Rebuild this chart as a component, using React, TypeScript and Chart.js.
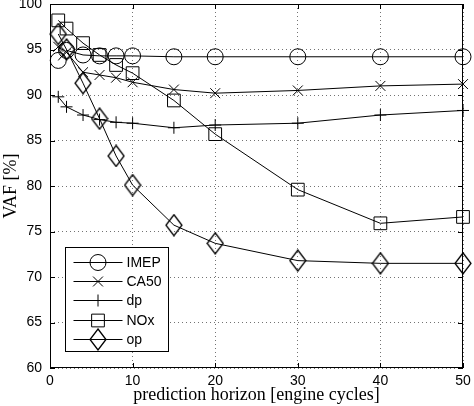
import { useEffect, useRef } from 'react'
import { Chart, registerables } from 'chart.js'
import { drawPoint } from 'chart.js/helpers'

Chart.register(...registerables)

// prediction horizon (engine cycles)
const horizon = [1, 2, 4, 6, 8, 10, 15, 20, 30, 40, 50]
// VAF [%] per signal
const imep = [93.8, 94.9, 94.4, 94.3, 94.3, 94.3, 94.2, 94.2, 94.2, 94.2, 94.2]
const ca50 = [95.3, 94.7, 92.5, 92.2, 91.9, 91.4, 90.6, 90.2, 90.5, 91.0, 91.2]
const dp = [89.8, 88.7, 87.8, 87.3, 87.0, 86.9, 86.4, 86.7, 86.9, 87.8, 88.3]
const nox = [98.2, 97.3, 95.7, 94.4, 93.3, 92.4, 89.4, 85.7, 79.6, 75.9, 76.6]
const op = [96.7, 95.0, 91.3, 87.4, 83.3, 80.1, 75.7, 73.7, 71.8, 71.5, 71.5]

const seriesNames = ['IMEP', 'CA50', 'dp', 'NOx', 'op']
const xTicks = [0, 10, 20, 30, 40, 50]
const yTicks = [60, 65, 70, 75, 80, 85, 90, 95, 100]

// matlab style diamond, a bit taller than wide
function makeDiamond() {
  const c = document.createElement('canvas')
  c.width = 18
  c.height = 23
  const g = c.getContext('2d')!
  g.strokeStyle = '#000'
  g.lineWidth = 1.3
  g.beginPath()
  g.moveTo(9, 1)
  g.lineTo(17, 11.5)
  g.lineTo(9, 22)
  g.lineTo(1, 11.5)
  g.closePath()
  g.stroke()
  return c
}

const frame = {
  id: 'frame',
  afterDraw(chart: any) {
    const { ctx, chartArea: a } = chart
    const xs = chart.scales.x
    const ys = chart.scales.y
    ctx.save()
    ctx.strokeStyle = '#000'
    ctx.lineWidth = 1
    ctx.strokeRect(a.left + 0.5, a.top + 0.5, a.right - a.left - 1, a.bottom - a.top - 1)
    // inward ticks on all sides
    ctx.beginPath()
    for (const v of xTicks) {
      const px = Math.round(xs.getPixelForValue(v)) + 0.5
      ctx.moveTo(px, a.bottom)
      ctx.lineTo(px, a.bottom - 5)
      ctx.moveTo(px, a.top)
      ctx.lineTo(px, a.top + 5)
    }
    for (const v of yTicks) {
      const py = Math.round(ys.getPixelForValue(v)) + 0.5
      ctx.moveTo(a.left, py)
      ctx.lineTo(a.left + 5, py)
      ctx.moveTo(a.right, py)
      ctx.lineTo(a.right - 5, py)
    }
    ctx.stroke()

    // legend box
    const bx = a.left + 15.5
    const by = a.bottom - 120.5
    const bw = 103
    const bh = 104
    ctx.fillStyle = '#fff'
    ctx.fillRect(bx, by, bw, bh)
    ctx.strokeRect(bx, by, bw, bh)
    ctx.font = '14px "Liberation Sans", Arial, sans-serif'
    ctx.textBaseline = 'middle'
    chart.data.datasets.forEach((ds: any, i: number) => {
      const y = Math.round(by + 14 + i * 19.4) + 0.5
      ctx.strokeStyle = '#000'
      ctx.lineWidth = 1
      ctx.beginPath()
      ctx.moveTo(bx + 8, y)
      ctx.lineTo(bx + 57, y)
      ctx.stroke()
      ctx.fillStyle = 'rgba(0,0,0,0)'
      drawPoint(ctx, { pointStyle: ds.pointStyle, radius: ds.pointRadius, borderWidth: 1, rotation: 0 }, bx + 32.5, y)
      ctx.fillStyle = '#000'
      ctx.fillText(ds.label, bx + 61, y + 1)
    })
    ctx.restore()
  },
}

export default function App() {
  const canvasRef = useRef<HTMLCanvasElement | null>(null)
  const chartRef = useRef<Chart | null>(null)

  useEffect(() => {
    document.body.style.margin = '0'
    if (!canvasRef.current) return
    const ctx = canvasRef.current.getContext('2d')!
    const diamond = makeDiamond()

    const values = [imep, ca50, dp, nox, op]
    const styles: any[] = ['circle', 'crossRot', 'cross', 'rect', diamond]
    const radii = [8, 7, 6, 9, 9]

    chartRef.current = new Chart(ctx, {
      type: 'line',
      data: {
        datasets: values.map((vals, i) => ({
          label: seriesNames[i],
          data: horizon.map((h, j) => ({ x: h, y: vals[j] })),
          borderColor: '#000',
          borderWidth: 1,
          pointStyle: styles[i],
          pointRadius: radii[i],
          pointBorderColor: '#000',
          pointBackgroundColor: 'rgba(0,0,0,0)',
          pointBorderWidth: 1,
          fill: false,
          tension: 0,
          clip: false,
        })),
      },
      options: {
        responsive: false,
        animation: false,
        layout: { autoPadding: false, padding: { top: 4, right: 11, left: 0, bottom: 0 } },
        plugins: {
          legend: { display: false },
          tooltip: { enabled: false },
        },
        scales: {
          x: {
            type: 'linear',
            min: 0,
            max: 50,
            afterBuildTicks: (s: any) => { s.ticks = xTicks.map((v) => ({ value: v })) },
            afterFit: (s: any) => { s.height = 38; s.paddingLeft = 0; s.paddingRight = 0 },
            grid: { color: 'rgba(0,0,0,0.55)', drawTicks: false },
            border: { display: false, dash: [1, 3] },
            ticks: {
              color: '#000',
              padding: 5,
              maxRotation: 0,
              font: { family: '"Liberation Sans", Arial, sans-serif', size: 14 },
            },
            title: {
              display: true,
              text: 'prediction horizon [engine cycles]',
              color: '#000',
              padding: 0,
              font: { family: '"Liberation Serif", "DejaVu Serif", serif', size: 18 },
            },
          },
          y: {
            type: 'linear',
            min: 60,
            max: 100,
            afterBuildTicks: (s: any) => { s.ticks = yTicks.map((v) => ({ value: v })) },
            afterFit: (s: any) => { s.width = 50; s.paddingTop = 0; s.paddingBottom = 0 },
            grid: { color: 'rgba(0,0,0,0.55)', drawTicks: false },
            border: { display: false, dash: [1, 3] },
            ticks: {
              color: '#000',
              padding: 8,
              font: { family: '"Liberation Sans", Arial, sans-serif', size: 14 },
            },
            title: {
              display: true,
              text: 'VAF [%]',
              color: '#000',
              padding: 0,
              font: { family: '"Liberation Serif", "DejaVu Serif", serif', size: 18 },
            },
          },
        },
      },
      plugins: [frame],
    })

    return () => chartRef.current?.destroy()
  }, [])

  return <canvas ref={canvasRef} width={474} height={406} style={{ display: 'block' }} />
}
